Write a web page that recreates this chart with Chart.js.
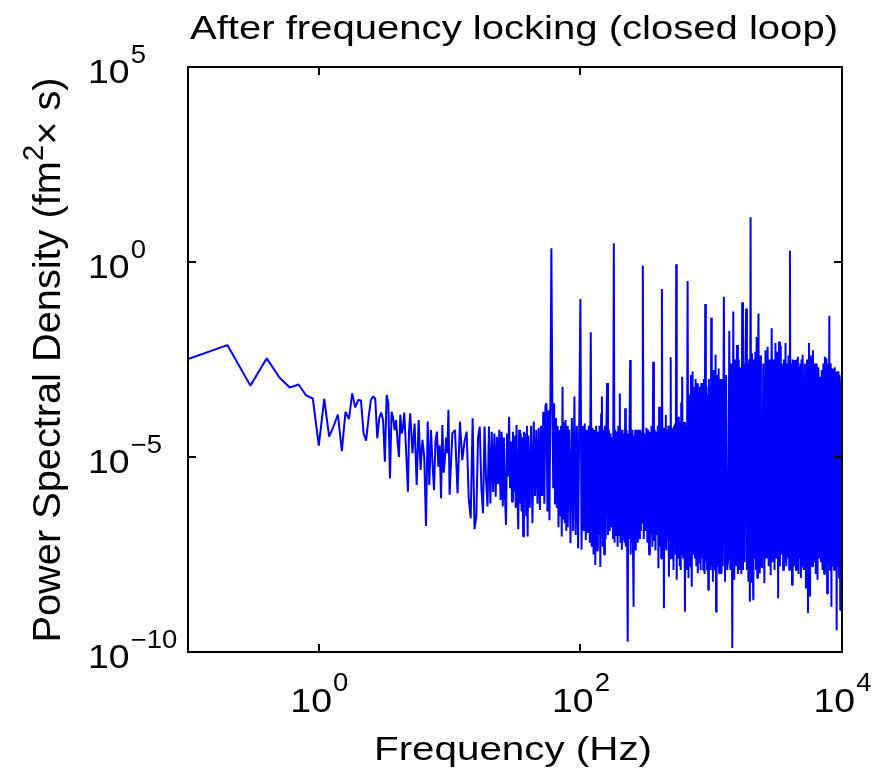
<!DOCTYPE html>
<html>
<head>
<meta charset="utf-8">
<script src="https://cdn.jsdelivr.net/npm/chart.js@4.4.1/dist/chart.umd.min.js"></script>
<style>
  html, body { margin: 0; padding: 0; background: #ffffff; }
  #wrap { width: 873px; height: 773px; }
  canvas { display: block; }
</style>
</head>
<body>
<div id="wrap"><canvas id="c" width="873" height="773"></canvas></div>
<script>
// ---------------- DATA ----------------
// Frequencies in Hz; PSD given as log10 of the value (fm^2 x s).
const freqBand1 = [0.1,0.2,0.3,0.4,0.5,0.6,0.7,0.8,0.9,1.0,1.1,1.2,1.3,1.4,1.5,1.6,1.7,1.8,1.9,2.0,
  2.1,2.2,2.3,2.4,2.5,2.6,2.7,2.8,2.9,3.0,3.1,3.2,3.3,3.4,3.5,3.6,3.7,3.8,3.9,4.0,
  4.1,4.2,4.3,4.4,4.5,4.6,4.7,4.8,4.9,5.0];
const psdLog10Band1 = [-2.49,-2.13,-3.17,-2.47,-2.96,-3.22,-3.14,-3.42,-3.50,-4.71,
  -3.51,-4.48,-4.2,-3.91,-4.85,-3.84,-4.03,-3.37,-3.73,-3.54,
  -3.55,-4.39,-4.58,-4.0,-3.54,-3.45,-3.5,-4.52,-4.0,-3.86,
  -4.05,-5.12,-3.41,-3.62,-5.55,-3.84,-4.0,-4.31,-4.05,-4.6,
  -5.0,-3.92,-4.4,-4.26,-3.86,-4.5,-5.2,-5.89,-4.3,-3.88];

const freqBand2 = [5.2,5.4,5.6,5.8,6.0,6.2,6.4,6.6,6.8,7.0,7.2,7.4,7.6,7.8,8.0,8.2,8.4,8.6,8.8,9.0,9.2,9.4,9.6,9.8,10,
  10.5,11,11.5,12,12.5,13,13.5,14,14.5,15,15.5,16,16.5,17,17.5,18,18.5,19,19.5,20,
  20.5,21,21.5,22,22.5,23,23.5,24,24.5,25,25.5,26,26.5,27,27.5,28,28.5,29,29.5,30,
  30.5,31,31.5,32,32.5,33,33.5,34,34.5,35,35.5,36,36.5,37,37.5,38,38.5,39,39.5,40];
const psdLog10Band2 = [-4.9,-4.14,-5.72,-4.05,-5.33,-4.56,-5.0,-6.77,-4.09,-5.72,-4.31,-5.15,-5.85,-4.6,-4.35,-5.25,-4.7,-6.06,-4.18,-5.4,-5.08,-4.5,-4.9,-3.79,-5.97,
  -4.39,-4.31,-5.93,-4.09,-5.08,-4.6,-4.35,-6.06,-6.57,-4.01,-6.85,-6.53,-4.5,-4.22,-5.8,-6.44,-4.22,-5.6,-6.27,-4.22,
  -6.19,-4.35,-5.9,-4.4,-6.02,-4.48,-5.7,-4.3,-6.1,-4.35,-6.27,-4.5,-6.0,-6.74,-4.4,-5.5,-3.97,-5.8,-4.6,-6.15,
  -4.35,-5.9,-4.45,-6.3,-4.18,-5.95,-6.85,-4.3,-6.2,-4.4,-6.4,-4.5,-7.04,-4.35,-6.1,-4.4,-6.5,-4.2,-7.04,-4.45];

const freqBand3 = [41,42,43,44,45,46,47,48,49,50,51,52,53,54,55,56,57,58,59,60,
  61,62,63,64,65,66,67,68,69,70,71,72,73,74,75,76,77,78,79,80,
  82,84,86,88,90,92,94,96,98,100,102,104,106,108,110,112,114,116,118,120,
  122,124,126,128,130,132,134,136,138,140,142,144,146,148,150,152,154,156,158,160];
const psdLog10Band3 = [-6.3,-4.2,-6.7,-4.09,-6.0,-4.3,-6.2,-4.25,-6.36,-4.2,-6.0,-3.84,-6.2,-3.7,-3.62,-6.4,-3.8,-6.62,-3.5,0.35,
  -3.55,-5.8,-3.62,-6.2,-4.0,-6.3,-4.2,-6.8,-4.31,-6.5,-4.2,-7.04,-3.2,-6.6,-4.1,-6.7,-4.05,-6.9,-4.2,-6.8,
  -4.3,-7.21,-4.0,-6.9,-3.45,-7.0,-4.2,-7.34,-4.1,-0.95,-7.38,-4.2,-6.9,-4.14,-7.13,-4.3,-6.95,-4.2,-7.2,-1.8,
  -7.3,-4.25,-7.5,-4.3,-7.77,-4.2,-7.4,-4.35,-7.0,-4.2,-7.82,-3.9,-3.45,-7.3,-4.3,-7.5,-4.2,-7.1,-4.25,-3.1];

const freqBand4 = [162.5,165,167.5,170,172.5,175,177.5,180,182.5,185,187.5,190,192.5,195,197.5,200,202.5,205,207.5,210,
  212.5,215,217.5,220,222.5,225,227.5,230,232.5,235,237.5,240,242.5,245,247.5,250,252.5,255,257.5,260,
  262.5,265,267.5,270,272.5,275,277.5,280,282.5,285,287.5,290,292.5,295,297.5,300,
  305,310,315,320,325,330,335,340,345,350,355,360,365,370,375,380,385,390,395,400,
  405,410,415,420,425,430,435,440,445,450,455,460,465,470,475,480,485,490,495,500,
  505,510,515,520,525,530,535,540,545,550,555,560,565,570,575,580,585,590,595,600];
const psdLog10Band4 = [-7.0,-4.3,-6.9,-4.4,-6.8,-4.5,-7.1,0.48,-7.2,-4.3,-7.0,-4.35,-7.3,-4.2,-7.0,-3.37,-7.2,-4.3,-7.38,-4.3,
  -7.1,-4.4,-7.2,-3.75,-7.3,-4.3,-7.0,-9.74,-4.4,-7.1,-4.3,-2.51,-7.5,-4.4,-7.2,-4.3,-7.4,-8.84,-4.45,-7.2,
  -4.3,-7.4,-4.35,-7.0,-4.3,-7.2,-4.4,-6.9,-4.3,-7.1,-4.35,-6.9,-4.4,-6.7,-4.3,-0.09,
  -7.1,-4.4,-6.9,-4.25,-7.2,-4.3,-7.5,-4.35,-7.0,-4.2,-7.3,-2.56,-7.15,-4.3,-7.4,-4.35,-7.0,-4.2,-7.85,-3.71,
  -7.3,-4.3,-7.6,-0.69,-7.2,-4.25,-8.88,-4.4,-7.3,-3.92,-7.4,-4.3,-7.1,-4.2,-8.07,-4.3,-7.6,-2.44,-7.5,-4.25,
  -7.6,-4.3,-7.9,-4.2,-7.3,-4.15,-7.5,-0.06,-8.15,-4.1,-7.4,-3.97,-7.6,-4.2,-7.8,-4.1,-7.9,-3.6,-7.5,-2.94];

const freqBand5 = [610,620,630,640,650,660,670,680,690,700,710,720,730,740,750,760,770,780,790,800,
  810,820,830,840,850,860,870,880,890,900,910,920,930,940,950,960,970,980,990,1000,
  1010,1020,1030,1040,1050,1060,1070,1080,1090,1100,1110,1120,1130,1140,1150,1160,1170,1180,1190,1200,
  1225,1250,1275,1300,1325,1350,1375,1400,1425,1450,1475,1500,1525,1550,1575,1600,1625,1650,1675,1700,
  1725,1750,1775,1800,1825,1850,1875,1900,1925,1950,1975,2000,2025,2050,2075,2100,2125,2150,2175,2200,
  2225,2250,2275,2300,2325,2350,2375,2400];
const psdLog10Band5 = [-7.6,-4.1,-8.97,-4.2,-7.9,-0.49,-8.1,-3.4,-7.8,-2.9,-8.33,-2.81,-7.5,-3.2,-7.6,-3.0,-7.8,-3.11,-7.98,-3.3,
  -7.7,-3.2,-7.9,-3.1,-7.6,-3.3,-7.9,-3.0,-8.0,-1.08,-7.7,-3.2,-7.9,-3.4,-8.41,-3.0,-7.6,-3.2,-7.9,-1.43,
  -7.8,-3.1,-8.2,-2.77,-7.7,-3.0,-7.9,-2.38,-8.97,-3.1,-7.8,-2.9,-7.6,-2.73,-7.98,-3.0,-7.7,-3.3,-7.98,-3.0,
  -7.8,-0.89,-8.2,-2.9,-7.9,-7.6,-1.77,-7.9,-2.6,-9.9,-1.27,-8.15,-2.5,-7.8,-2.13,-8.0,-2.5,-7.9,-2.7,-8.0,
  -1.03,-7.9,-2.6,-7.7,-2.5,-1.19,-7.9,-2.6,-8.2,-2.5,-8.71,1.15,-8.2,-2.34,-7.8,-8.67,-2.5,-7.6,-2.3,-7.9,
  -1.92,-8.1,-2.6,-1.32,-7.9,-7.98,-2.4,-7.7];

const freqBand6 = [2450,2500,2550,2600,2650,2700,2750,2800,2850,2900,2950,3000,3050,3100,3150,3200,3250,3300,3350,3400,
  3450,3500,3550,3600,3650,3700,3750,3800,3850,3900,3950,4000,4050,4100,4150,4200,4250,4300,4350,4400,
  4450,4500,4550,4600,4650,4700,4750,4800,4850,4900,4950,5000,
  5100,5200,5300,5400,5500,5600,5700,5800,5900,6000,6100,6200,6300,6400,6500,6600,6700,6800,6900,7000,
  7100,7200,7300,7400,7500,7600,7700,7800,7900,8000,8100,8200,8300,8400,8500,8600,8700,8800,8900,9000,
  9100,9200,9300,9400,9500,9600,9700,9800,9900,10000];
const psdLog10Band6 = [-7.85,-2.6,-8.24,-2.26,-7.6,-2.17,-7.8,-2.5,-8.03,-1.7,-7.7,-2.5,-7.9,-2.08,-7.6,-2.3,-8.62,-2.04,-7.8,-2.15,
  -7.5,-2.6,-7.9,-2.5,-7.7,-2.08,-7.8,-2.6,-7.6,-2.4,-7.9,0.29,-7.7,-2.6,-8.28,-2.5,-7.6,-2.51,-7.8,-2.7,
  -7.9,-2.5,-7.7,-2.43,-8.0,-2.7,-7.6,-2.6,-8.1,-2.5,-7.8,-2.38,
  -7.9,-2.6,-8.37,-2.5,-9.0,-2.08,-8.58,-2.4,-7.8,-2.26,-7.7,-2.6,-8.0,-2.6,-8.15,-2.7,-7.6,-2.94,-7.7,-2.77,
  -7.9,-2.6,-8.0,-2.43,-7.8,-2.47,-8.5,-2.6,-7.7,-1.38,-7.9,-2.6,-8.84,-2.73,-7.8,-2.8,-7.9,-2.7,-7.7,-2.81,
  -9.44,-2.9,-7.8,-2.8,-8.1,-2.9,-8.92,-3.03,-8.4,-3.0];

// Axis ticks (decade exponents) and texts
const xTickExponents = [0, 2, 4];
const yTickExponents = [5, 0, -5, -10];
const titleText = 'After frequency locking (closed loop)';
const xLabelText = 'Frequency (Hz)';
const yLabelParts = ['Power Spectral Density (fm', '2', '\u00d7 s)'];

// ---------------- build library data ----------------
const freqAll = [].concat(freqBand1, freqBand2, freqBand3, freqBand4, freqBand5, freqBand6);
const psdAll = [].concat(psdLog10Band1, psdLog10Band2, psdLog10Band3, psdLog10Band4, psdLog10Band5, psdLog10Band6);
const points = freqAll.map((f, i) => ({ x: f, y: Math.pow(10, psdAll[i]) }));

const FONT = '"Liberation Sans", Arial, Helvetica, sans-serif';
function font(px) { return px + 'px ' + FONT; }

function powLabel(ctx, exp, x, y, align, bpx, epx, raise, sx) {
  const base = '10';
  const e = String(exp).replace('-', '\u2212');
  ctx.font = font(bpx); const wb = ctx.measureText(base).width * sx;
  ctx.font = font(epx); const we = ctx.measureText(e).width * sx;
  const x0 = align === 'center' ? x - (wb + we) / 2 : x;
  ctx.save();
  ctx.translate(x0, y);
  ctx.scale(sx, 1);
  ctx.font = font(bpx); ctx.fillText(base, 0, 0);
  ctx.font = font(epx); ctx.fillText(e, wb / sx + 1, -raise);
  ctx.restore();
}

function fitText(ctx, str, cx, y, px, targetW) {
  ctx.font = font(px);
  const w = ctx.measureText(str).width;
  const sx = targetW ? targetW / w : 1;
  ctx.save();
  ctx.translate(cx - w * sx / 2, y);
  ctx.scale(sx, 1);
  ctx.fillText(str, 0, 0);
  ctx.restore();
}

const framePlugin = {
  id: 'matlabFrame',
  beforeDraw(chart) {
    const ctx = chart.ctx;
    ctx.save(); ctx.fillStyle = '#ffffff'; ctx.fillRect(0, 0, chart.width, chart.height); ctx.restore();
  },
  afterDraw(chart) {
    const ctx = chart.ctx;
    const a = chart.chartArea;
    const xs = chart.scales.x, ys = chart.scales.y;
    ctx.save();
    ctx.strokeStyle = '#000000';
    ctx.lineWidth = 2;
    ctx.strokeRect(a.left, a.top, a.right - a.left, a.bottom - a.top);
    const TL = 8;
    ctx.beginPath();
    xTickExponents.forEach(e => {
      const px = Math.round(xs.getPixelForValue(Math.pow(10, e)));
      ctx.moveTo(px, a.bottom); ctx.lineTo(px, a.bottom - TL);
      ctx.moveTo(px, a.top); ctx.lineTo(px, a.top + TL);
    });
    yTickExponents.forEach(e => {
      const py = Math.round(ys.getPixelForValue(Math.pow(10, e)));
      ctx.moveTo(a.left, py); ctx.lineTo(a.left + TL, py);
      ctx.moveTo(a.right, py); ctx.lineTo(a.right - TL, py);
    });
    ctx.stroke();

    ctx.fillStyle = '#000000';
    ctx.textAlign = 'left';
    ctx.textBaseline = 'alphabetic';
    // tick labels
    xTickExponents.forEach(e => {
      const px = xs.getPixelForValue(Math.pow(10, e));
      powLabel(ctx, e, px, a.bottom + 60, 'center', 34, 25, 21, 1.1);
    });
    yTickExponents.forEach(e => {
      const py = ys.getPixelForValue(Math.pow(10, e));
      powLabel(ctx, e, 88, py + 16, 'left', 34, 25, 20, 1.1);
    });
    // title and x label
    fitText(ctx, titleText, 514, 39, 34, 648);
    fitText(ctx, xLabelText, 513, 760, 34, 278);
    // y label (rotated, reading upward)
    ctx.save();
    ctx.translate(60, 360);
    ctx.rotate(-Math.PI / 2);
    const bpx = 34, spx = 25;
    ctx.font = font(bpx); const w1 = ctx.measureText(yLabelParts[0]).width;
    ctx.font = font(spx); const w2 = ctx.measureText(yLabelParts[1]).width;
    ctx.font = font(bpx); const w3 = ctx.measureText(yLabelParts[2]).width;
    const total = w1 + w2 + w3;
    const targetLen = 565;
    ctx.scale(targetLen / total, 1.15);
    let x0 = -total / 2;
    ctx.font = font(bpx); ctx.fillText(yLabelParts[0], x0, 0); x0 += w1;
    ctx.font = font(spx); ctx.fillText(yLabelParts[1], x0, -15); x0 += w2;
    ctx.font = font(bpx); ctx.fillText(yLabelParts[2], x0, 0);
    ctx.restore();
    ctx.restore();
  }
};

new Chart(document.getElementById('c'), {
  type: 'line',
  data: {
    datasets: [{
      data: points,
      borderColor: '#0000ff',
      borderWidth: 2,
      pointRadius: 0,
      tension: 0,
      fill: false,
      borderJoinStyle: 'bevel'
    }]
  },
  options: {
    responsive: false,
    animation: false,
    events: [],
    layout: { padding: { left: 188, right: 31, top: 67, bottom: 121 } },
    plugins: { legend: { display: false }, tooltip: { enabled: false }, title: { display: false } },
    scales: {
      x: { type: 'logarithmic', min: 0.1, max: 10000, display: false },
      y: { type: 'logarithmic', min: 1e-10, max: 1e5, display: false }
    }
  },
  plugins: [framePlugin]
});
</script>
</body>
</html>
